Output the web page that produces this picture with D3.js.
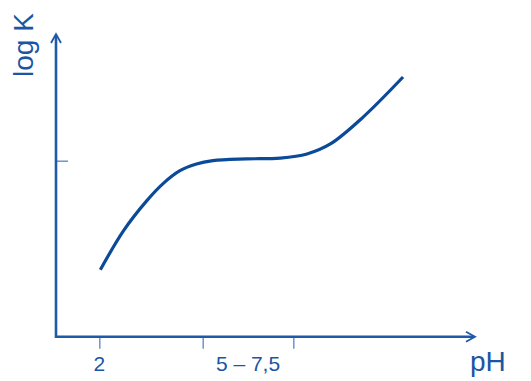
<!DOCTYPE html>
<html>
<head>
<meta charset="utf-8">
<script src="https://cdn.jsdelivr.net/npm/d3@7"></script>
<style>
  body { margin: 0; background: #fff; }
  text { font-family: "Liberation Sans", Arial, sans-serif; fill: #1b55a3; }
</style>
</head>
<body>
<div id="chart"></div>
<script>
// curve (pH, log K)
const pH = [2.03, 2.7, 3.38, 3.85, 4.34, 4.82, 5.28, 6.21, 7.14, 7.88, 8.53, 9.44, 10.55];
const logK = [2.28, 3.61, 4.64, 5.22, 5.66, 5.89, 6.0, 6.06, 6.09, 6.23, 6.57, 7.48, 8.84];

const xTicks = [2, 5, 7.5];
const yTicks = [6];
const xLabels = [{ text: '2', at: [2] }, { text: '5 – 7,5', at: [5, 7.5] }];

const width = 531;
const height = 381;
const axisColor = '#1e5aa8';
const lineColor = '#0b4a98';
const tickColor = '#6d95cb';

const svg = d3
  .select('#chart')
  .append('svg')
  .attr('width', width)
  .attr('height', height);

// scales (the x ticks are not evenly spaced in the picture)
const x = d3.scaleLinear().domain([0.79, 2, 5, 7.5, 12.55]).range([56, 99.3, 202.7, 293.3, 475]);
const y = d3.scaleLinear().domain([0, 6, 10.3]).range([336.7, 160.7, 34]);

// ticks
const xAxis = d3.axisBottom(x).tickValues(xTicks).tickSize(12).tickFormat('');
const gx = svg.append('g').attr('transform', `translate(0,${y(0)})`).call(xAxis);
const yAxis = d3.axisRight(y).tickValues(yTicks).tickSize(12).tickFormat('');
const gy = svg.append('g').attr('transform', `translate(${x(0.79)},0)`).call(yAxis);
[gx, gy].forEach(g => {
  g.select('.domain').remove();
  g.selectAll('.tick line').attr('stroke', tickColor).attr('stroke-width', 1.5);
});

// axis lines with open arrow heads
const x0 = x(0.79);
const y0 = y(0);
const yTop = y(10.3);
const xEnd = x(12.55);
const axes = svg.append('g').attr('fill', 'none').attr('stroke', axisColor).attr('stroke-width', 2.6);
axes.append('path').attr('d', `M${x0},${yTop + 1}V${y0}H${xEnd - 1}`);
axes.append('path').attr('stroke-width', 1.8)
  .attr('d', `M${x0 - 5},${yTop + 9}L${x0},${yTop}L${x0 + 5},${yTop + 9}`);
axes.append('path').attr('stroke-width', 1.8)
  .attr('d', `M${xEnd - 9},${y0 - 5}L${xEnd},${y0}L${xEnd - 9},${y0 + 5}`);

// curve
const line = d3
  .line()
  .x(d => x(d[0]))
  .y(d => y(d[1]))
  .curve(d3.curveCatmullRom.alpha(0.5));
svg
  .append('path')
  .datum(d3.zip(pH, logK))
  .attr('fill', 'none')
  .attr('stroke', lineColor)
  .attr('stroke-width', 3.2)
  .attr('d', line);

// tick labels
svg
  .selectAll('.xlabel')
  .data(xLabels)
  .join('text')
  .attr('class', 'xlabel')
  .attr('x', d => d3.mean(d.at, x))
  .attr('y', 371)
  .attr('text-anchor', 'middle')
  .attr('font-size', 21)
  .text(d => d.text);

// axis titles
svg.append('text')
  .attr('x', 470)
  .attr('y', 371)
  .attr('font-size', 28)
  .text('pH');

svg.append('text')
  .attr('transform', 'translate(33,77) rotate(-90)')
  .attr('font-size', 28)
  .text('log K');
</script>
</body>
</html>
